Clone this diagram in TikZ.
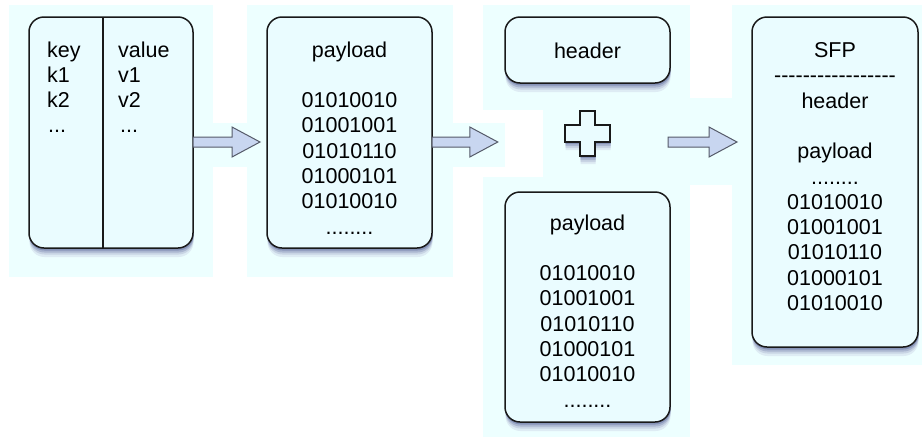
\documentclass[tikz,border=0pt]{standalone}
\usepackage{fontspec}
\setmainfont{Liberation Sans}
\usetikzlibrary{calc}

\definecolor{panelbg}{RGB}{237,255,255}
\definecolor{boxfill}{RGB}{234,252,255}
\definecolor{arrowfill}{RGB}{200,214,240}
\definecolor{arrowline}{RGB}{85,90,105}
\definecolor{shadowblue}{RGB}{45,55,105}
\definecolor{shadeA}{RGB}{222,236,244}
\definecolor{shadeB}{RGB}{200,212,228}
\definecolor{shadeC}{RGB}{170,182,208}
\definecolor{shadeD}{RGB}{135,148,184}

% a row of eight dots, kept in a macro so \foreach does not read it as a range
\newcommand\dotrow{........}
% a row of separate hyphens (no dash ligatures)
\newcommand\dashrow{{-}{-}{-}{-}{-}{-}{-}{-}{-}{-}{-}{-}{-}{-}{-}{-}{-}}

% hollow block arrow from #1 to the tip at #2 (horizontal)
\newcommand\hollowarrow[2]{%
  \draw[blockarrow] let \p1=(#1), \p2=(#2) in
    (\x1,\y1-5pt) -- (\x2-28pt,\y1-5pt) -- (\x2-28pt,\y1-15pt) -- (\x2,\y1)
    -- (\x2-28pt,\y1+15pt) -- (\x2-28pt,\y1+5pt) -- (\x1,\y1+5pt) -- cycle;}

% soft shadow under a rounded card spanning (#1,#2)-(#3,#4)
\newcommand\shadowbox[4]{%
  \fill[shadeA, rounded corners=15pt] (#1+0.5,#2+9) rectangle (#3+0.5,#4+9);
  \fill[shadeB, rounded corners=15pt] (#1+0.5,#2+6.5) rectangle (#3+0.5,#4+6.5);
  \fill[shadeC, rounded corners=15pt] (#1+0.5,#2+4.5) rectangle (#3+0.5,#4+4.5);
  \fill[shadeD, rounded corners=15pt] (#1+0.5,#2+2.5) rectangle (#3+0.5,#4+2.5);}

% outline of the plus sign around the origin
\newcommand\pluspath{(-7.5,-22.5) -- (7.5,-22.5) -- (7.5,-8.5) -- (22.5,-8.5)
  -- (22.5,8.5) -- (7.5,8.5) -- (7.5,22.5) -- (-7.5,22.5) -- (-7.5,8.5)
  -- (-22.5,8.5) -- (-22.5,-8.5) -- (-7.5,-8.5) -- cycle}

\begin{document}
\begin{tikzpicture}[x=1pt,y=-1pt,
  panel/.style={fill=panelbg, draw=none},
  card/.style={draw=black!90, line width=1.5pt, fill=boxfill,
    rounded corners=15pt, inner sep=0pt, outer sep=0pt},
  plusshape/.style={draw=black!90, line width=1.5pt, fill=boxfill},
  blockarrow/.style={draw=arrowline, line width=1pt, fill=arrowfill,
    line join=miter},
  txt/.style={font=\fontsize{21.5}{25}\selectfont, inner sep=0pt, anchor=base},
  txtl/.style={txt, anchor=base west},
]
\useasboundingbox[fill=white] (0,0) rectangle (922,445);

% pale backdrop panels
\fill[panel] (9,5) rectangle (213,277);
\fill[panel] (193,123) rectangle (267,167);
\fill[panel] (247,5) rectangle (453,277);
\fill[panel] (432,123) rectangle (505,167);
\fill[panel] (483,5) rectangle (690,110);
\fill[panel] (543,98) rectangle (732,185);
\fill[panel] (483,177) rectangle (690,437);
\fill[panel] (732,5) rectangle (922,365);

% shadows beneath the cards and the plus sign
\shadowbox{29}{17}{193}{248}
\shadowbox{267}{17}{432}{248}
\shadowbox{505}{17}{670}{83}
\shadowbox{505}{192}{670}{422}
\shadowbox{752}{17}{918}{347}
\fill[shadeA, shift={(588,141.5)}] \pluspath;
\fill[shadeB, shift={(588,139.5)}] \pluspath;
\fill[shadeC, shift={(588,137.5)}] \pluspath;
\fill[shadeD, shift={(588,135.5)}] \pluspath;

% card outlines
\node[card, minimum width=164pt, minimum height=231pt] (kv)  at (111,132.5) {};
\node[card, minimum width=165pt, minimum height=231pt] (pay) at (349.5,132.5) {};
\node[card, minimum width=165pt, minimum height=66pt]  (hdr) at (587.5,50) {};
\node[card, minimum width=165pt, minimum height=230pt] (pay2) at (587.5,307) {};
\node[card, minimum width=166pt, minimum height=330pt] (sfp) at (835,182) {};

% plus sign
\node[minimum size=45pt, inner sep=0pt] (plus) at (587.5,133.5) {};
\draw[plusshape, shift={(plus.center)}] \pluspath;

% key / value divider
\draw[line width=1.3pt, black!90] ($(kv.north)+(-8,0)$) -- ($(kv.south)+(-8,0)$);

% key / value table
\node[txtl] (k0) at (47,57) {key};
\node[txtl] (k1) at (47,82.3) {k1};
\node[txtl] (k2) at (47,107.6) {k2};
\node[txtl] (k3) at (48,132.9) {...};
\node[txtl] (v0) at (118,57) {value};
\node[txtl] (v1) at (118,82.3) {v1};
\node[txtl] (v2) at (118,107.6) {v2};
\node[txtl] (v3) at (120,132.9) {...};

% payload card
\foreach \t/\k in {payload/0, 01010010/2, 01001001/3, 01010110/4,
                   01000101/5, 01010010/6, \dotrow/7}
  \node[txt] (pa-\k) at (349.5,57+25.3*\k) {\t};

% header card
\node[txt] (hdr-t) at (587.5,58.5) {header};

% second payload card
\foreach \t/\k in {payload/0, 01010010/2, 01001001/3, 01010110/4,
                   01000101/5, 01010010/6, \dotrow/7}
  \node[txt] (pb-\k) at (587.5,230+25.3*\k) {\t};

% SFP card
\foreach \t/\k in {SFP/0, \dashrow/1, header/2, payload/4, \dotrow/5,
                   01010010/6, 01001001/7, 01010110/8, 01000101/9, 01010010/10}
  \node[txt] (sf-\k) at (835,57.5+25.3*\k) {\t};

% flow arrows
\coordinate (a1s) at ($(kv.east)+(0,9.5)$);
\coordinate (a1t) at ($(pay.west)+(-7,9.5)$);
\coordinate (a2s) at ($(pay.east)+(0,9.5)$);
\coordinate (a2t) at ($(plus.west)+(-67,8.5)$);
\coordinate (a3s) at ($(plus.east)+(58,8.5)$);
\coordinate (a3t) at ($(sfp.west)+(-15,-40)$);
\hollowarrow{a1s}{a1t}
\hollowarrow{a2s}{a2t}
\hollowarrow{a3s}{a3t}
\end{tikzpicture}
\end{document}
